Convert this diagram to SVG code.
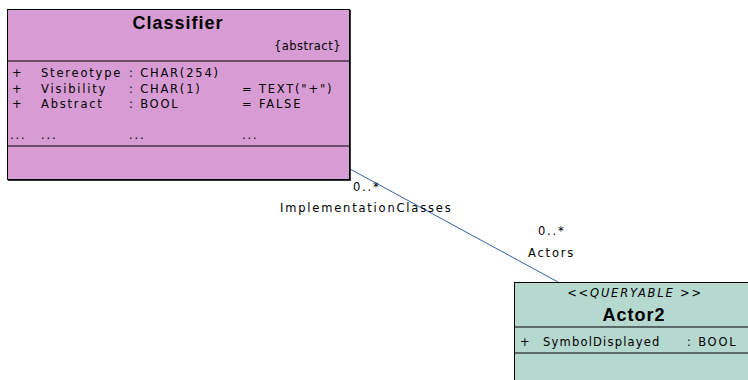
<svg xmlns="http://www.w3.org/2000/svg" width="748" height="380" viewBox="0 0 748 380">
<style>
text{font-family:"DejaVu Sans",Verdana,sans-serif;fill:#000}
.t{font-size:11.5px;letter-spacing:1.8px}
.b{font-family:"Liberation Sans",Arial,sans-serif;font-size:18px;font-weight:bold;letter-spacing:1px}
.box{stroke:#000;stroke-width:1}
.div{stroke:#000;stroke-width:1.2}
</style>
<rect width="748" height="380" fill="#fff"/>
<g id="connectors">
<line x1="350" y1="169" x2="558" y2="282" stroke="#2f62a6" stroke-width="1"/>
<text class="t" x="353" y="191">0..*</text>
<text class="t" x="280" y="212">ImplementationClasses</text>
<text class="t" x="538" y="235">0..*</text>
<text class="t" x="528" y="257">Actors</text>
</g>
<g id="Classifier">
<rect x="7.5" y="9.5" width="342" height="170" fill="#d89cd4" class="box"/>
<line x1="350.5" y1="10" x2="350.5" y2="181" stroke="#333" stroke-width="1"/>
<line x1="8" y1="180.5" x2="351" y2="180.5" stroke="#333" stroke-width="1"/>
<line x1="8" y1="61" x2="349" y2="61" class="div"/>
<line x1="8" y1="146" x2="349" y2="146" class="div"/>
<text class="b" x="178" y="29" text-anchor="middle">Classifier</text>
<text class="t" x="341" y="50" text-anchor="end" style="letter-spacing:0.5px">{abstract}</text>
<text class="t" x="12" y="77">+</text>
<text class="t" x="41" y="77">Stereotype</text>
<text class="t" x="129" y="77">: CHAR(254)</text>
<text class="t" x="12" y="93">+</text>
<text class="t" x="41" y="93">Visibility</text>
<text class="t" x="129" y="93">: CHAR(1)</text>
<text class="t" x="242" y="93">= TEXT("+")</text>
<text class="t" x="12" y="108">+</text>
<text class="t" x="41" y="108">Abstract</text>
<text class="t" x="129" y="108">: BOOL</text>
<text class="t" x="242" y="108">= FALSE</text>
<text class="t" x="10" y="139">...</text>
<text class="t" x="41" y="139">...</text>
<text class="t" x="129" y="139">...</text>
<text class="t" x="242" y="139">...</text>
</g>
<g id="Actor2">
<rect x="514.5" y="282.5" width="240" height="110" fill="#b5d8cf" class="box"/>
<line x1="515" y1="327" x2="748" y2="327" class="div"/>
<line x1="515" y1="353" x2="748" y2="353" class="div"/>
<text class="t" x="635" y="297" text-anchor="middle" font-style="italic">&lt;&lt;QUERYABLE &gt;&gt;</text>
<text class="b" x="634" y="321" text-anchor="middle">Actor2</text>
<text class="t" x="520" y="346">+</text>
<text class="t" x="543" y="346" style="letter-spacing:1.2px">SymbolDisplayed</text>
<text class="t" x="687" y="346">: BOOL</text>
</g>
</svg>
